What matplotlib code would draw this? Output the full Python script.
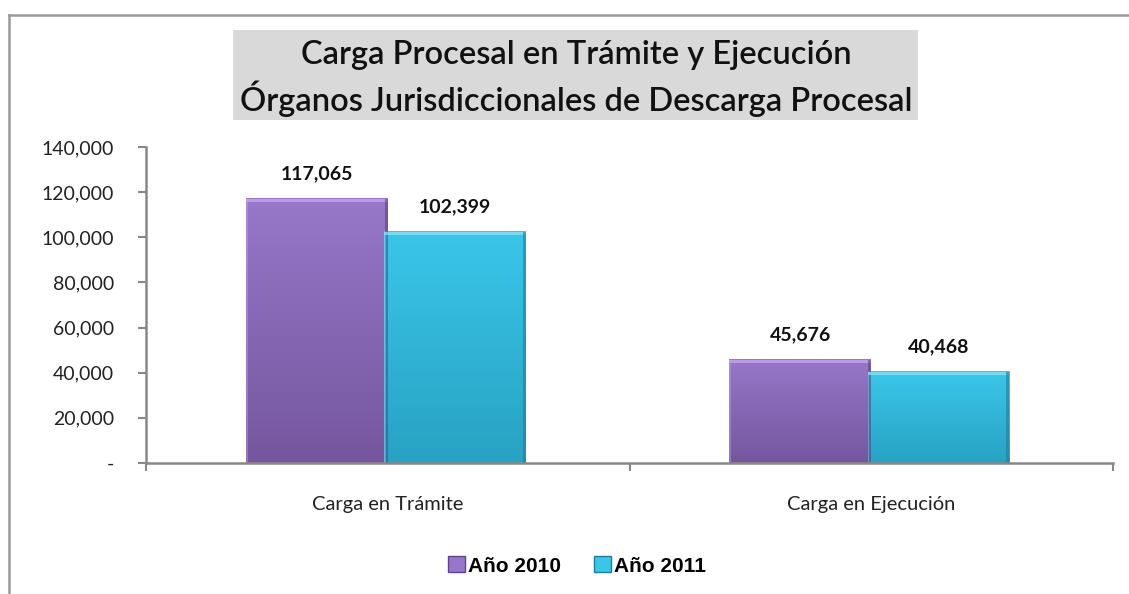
import matplotlib
matplotlib.use("Agg")
import matplotlib.pyplot as plt
import numpy as np
from matplotlib.patches import Rectangle
from matplotlib.lines import Line2D
from matplotlib.ticker import FuncFormatter, FixedLocator

categories = ["Carga en Trámite", "Carga en Ejecución"]
series_names = ["Año 2010", "Año 2011"]
values_2010 = [117065, 45676]
values_2011 = [102399, 40468]
label_2010 = ["117,065", "45,676"]
label_2011 = ["102,399", "40,468"]
yticks = [0, 20000, 40000, 60000, 80000, 100000, 120000, 140000]

W, H = 1129, 594
fig = plt.figure(figsize=(W / 100, H / 100), dpi=100)
fig.patch.set_facecolor("white")

ax = fig.add_axes([146 / W, 1 - 463 / H, (1113 - 146) / W, (463 - 147) / H])

x = np.arange(len(categories))
bw = 0.293
offs = [-0.147, 0.139]

purple = dict(top="#9677C9", bottom="#75569E", hi="#C7A9EE", dark="#5F4585")
cyan = dict(top="#3AC6E9", bottom="#28A2C3", hi="#8AE2F6", dark="#1E7F9C")

def draw_bar(xc, h, c):
    x0 = xc - bw / 2
    grad = np.linspace(0, 1, 64)[:, None]
    top = np.array(matplotlib.colors.to_rgb(c["top"]))
    bot = np.array(matplotlib.colors.to_rgb(c["bottom"]))
    img = top[None, None, :] * (1 - grad[..., None]) + bot[None, None, :] * grad[..., None]
    img = np.repeat(img, 8, axis=1)
    ax.imshow(img, extent=[x0, x0 + bw, 0, h], aspect="auto", zorder=2, interpolation="bilinear")
    # bevel: top highlight, right dark edge
    eh = 1500
    ax.add_patch(Rectangle((x0, h - eh), bw, eh, color=c["hi"], lw=0, zorder=3, alpha=0.75))
    ew = 0.006
    ax.add_patch(Rectangle((x0 + bw - ew, 0), ew, h, color=c["dark"], lw=0, zorder=3, alpha=0.6))
    ax.add_patch(Rectangle((x0, 0), ew * 0.6, h, color=c["hi"], lw=0, zorder=3, alpha=0.4))

lab_kw = dict(textcoords="offset points", ha="center", va="bottom", fontsize=14, fontweight="bold",
              family="Lato", color="#111111")
for i in range(len(categories)):
    draw_bar(x[i] + offs[0], values_2010[i], purple)
    draw_bar(x[i] + offs[1], values_2011[i], cyan)
    ax.annotate(label_2010[i], (x[i] + offs[0], values_2010[i]), xytext=(0, 12), **lab_kw)
    ax.annotate(label_2011[i], (x[i] + offs[1], values_2011[i]), xytext=(0, 12), **lab_kw)

ax.set_xlim(-0.5, 1.5)
ax.set_ylim(0, 140000)

ax.xaxis.set_major_locator(FixedLocator(x))
ax.set_xticklabels(categories, family="Lato", fontsize=14.5, color="#222222")
ax.xaxis.set_minor_locator(FixedLocator([-0.5, 0.5, 1.5]))
ax.tick_params(axis="x", which="major", length=0, pad=24)
ax.tick_params(axis="x", which="minor", length=6, width=1.5, color="#888888", direction="out")

ax.set_yticks(yticks)
ax.yaxis.set_major_formatter(FuncFormatter(lambda v, p: "-" if v == 0 else f"{int(v):,}"))
ax.tick_params(axis="y", length=6, width=1.5, color="#888888", direction="out", pad=17,
               labelsize=14)
for t in ax.get_yticklabels():
    t.set_family("Lato")
    t.set_color("#222222")

for s in ["top", "right"]:
    ax.spines[s].set_visible(False)
for s in ["left", "bottom"]:
    ax.spines[s].set_color("#888888")
    ax.spines[s].set_linewidth(1.8)
    ax.spines[s].set_zorder(4)

# Title box
fig.add_artist(Rectangle((233 / W, 1 - 120 / H), (918 - 233) / W, 90 / H, transform=fig.transFigure,
                         facecolor="#D9D9D9", edgecolor="none"))
tkw = dict(ha="center", va="center", fontsize=23.5, family="Lato", fontweight="semibold", color="#111111")
fig.text(576 / W, 1 - 55 / H, "Carga Procesal en Trámite y Ejecución", **tkw)
fig.text(576 / W, 1 - 99 / H, "Órganos Jurisdiccionales de Descarga Procesal", **tkw)

# Outer frame
fig.add_artist(Line2D([9 / W, 9 / W], [0, 1 - 15 / H], transform=fig.transFigure, color="#999999", lw=1.8))
fig.add_artist(Line2D([9 / W, 1], [1 - 15 / H, 1 - 15 / H], transform=fig.transFigure, color="#999999", lw=1.8))

# Legend
handles = [Rectangle((0, 0), 1, 1, facecolor=purple["top"], edgecolor=purple["dark"], lw=1),
           Rectangle((0, 0), 1, 1, facecolor=cyan["top"], edgecolor=cyan["dark"], lw=1)]
leg = fig.legend(handles, series_names, loc="center", bbox_to_anchor=(577 / W, 1 - 566 / H), ncol=2,
                 frameon=False, handlelength=0.8, handleheight=0.8, handletextpad=0.15, columnspacing=1.6,
                 prop=dict(family="Liberation Sans", weight="bold", size=15))

fig.savefig("out.png", dpi=100)
